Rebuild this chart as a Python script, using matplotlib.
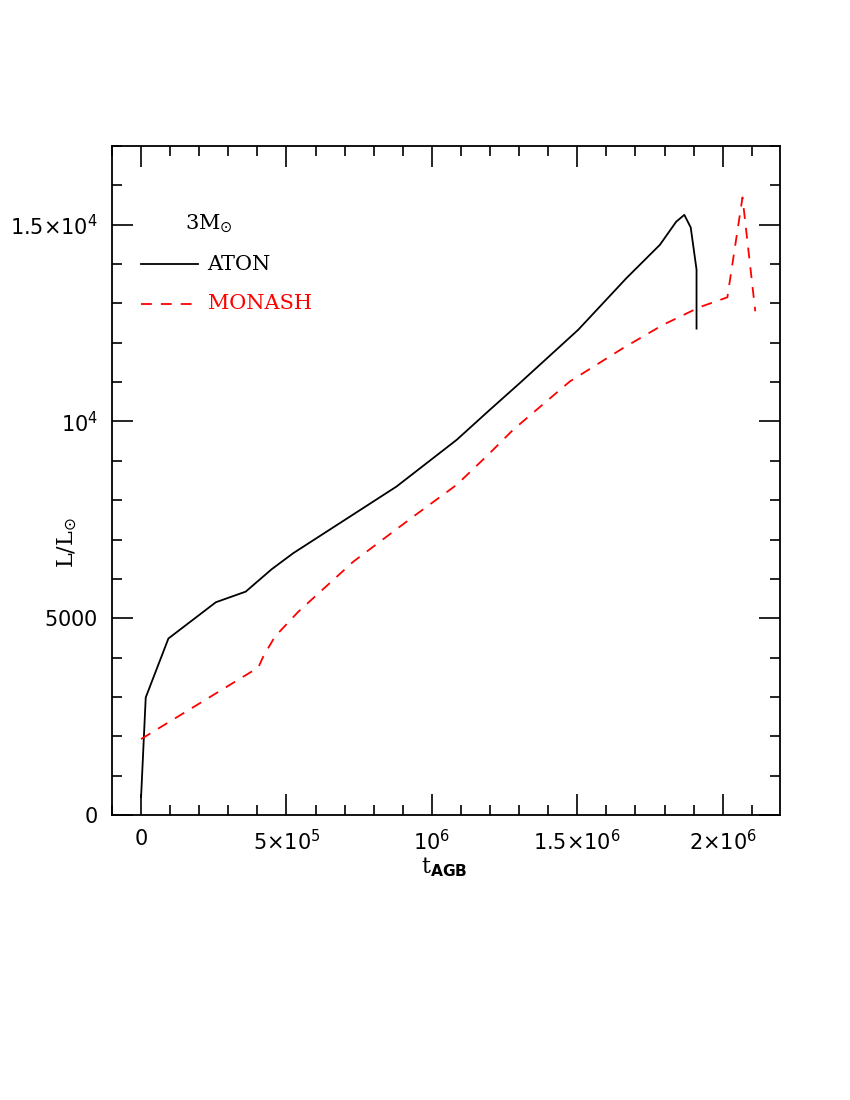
import matplotlib
matplotlib.use("Agg")
import matplotlib.pyplot as plt
from matplotlib.ticker import MultipleLocator, FixedLocator, FixedFormatter

# ATON (solid black)
aton_t = [0, 16000, 94000, 257000, 360000, 449000, 523000, 878000, 1085000,
          1199000, 1302000, 1503000, 1669000, 1784000, 1840000, 1868000,
          1890000, 1910000, 1910000]
aton_L = [457, 2987, 4485, 5406, 5677, 6245, 6652, 8345, 9532,
          10295, 10974, 12329, 13643, 14489, 15076, 15250,
          14930, 13860, 12360]

# MONASH (dashed red)
monash_t = [0, 403000, 420000, 460000, 541000, 730000, 936000, 1085000,
            1199000, 1279000, 1474000, 1657000, 1795000, 1921000, 2016000,
            2068000, 2112000]
monash_L = [1929, 3748, 4024, 4532, 5168, 6439, 7583, 8389,
            9195, 9787, 11015, 11863, 12456, 12906, 13155,
            15693, 12800]

xticks = [0, 5e5, 1e6, 1.5e6, 2e6]
xticklabels = [r"$0$", r"$5{\times}10^5$", r"$10^6$", r"$1.5{\times}10^6$", r"$2{\times}10^6$"]
yticks = [0, 5000, 10000, 15000]
yticklabels = [r"$0$", r"$5000$", r"$10^4$", r"$1.5{\times}10^4$"]

plt.rcParams["mathtext.fontset"] = "dejavusans"

fig = plt.figure(figsize=(8.5, 11), dpi=100)
ax = fig.add_axes([112/850, 1-815/1100, (780-112)/850, (815-146)/1100])

ax.plot(aton_t, aton_L, color="black", lw=1.3)
ax.plot(monash_t, monash_L, color="red", lw=1.3, dashes=(6, 5))

ax.set_xlim(-1e5, 2.197e6)
ax.set_ylim(0, 17000)

ax.xaxis.set_major_locator(FixedLocator(xticks))
ax.xaxis.set_major_formatter(FixedFormatter(xticklabels))
ax.xaxis.set_minor_locator(MultipleLocator(1e5))
ax.yaxis.set_major_locator(FixedLocator(yticks))
ax.yaxis.set_major_formatter(FixedFormatter(yticklabels))
ax.yaxis.set_minor_locator(MultipleLocator(1000))

ax.tick_params(which="both", direction="in", top=True, right=True, width=1.2)
ax.tick_params(which="major", length=15, labelsize=15, pad=10)
ax.tick_params(which="minor", length=7)
for s in ax.spines.values():
    s.set_linewidth(1.3)

serif = "DejaVu Serif"
ax.set_xlabel(r"t$_{\mathbf{AGB}}$", fontsize=16, family=serif)
ax.xaxis.set_label_coords(0.498, -0.06)
ax.set_ylabel(r"L/L$_{\odot}$", fontsize=16, family=serif)
ax.yaxis.set_label_coords(-0.05, 0.407)

# legend drawn in axes coordinates
ax.text(0.11, 0.883, r"3M$_{\odot}$", transform=ax.transAxes, fontsize=15,
        family=serif, va="center", ha="left")
ax.plot([0.043, 0.128], [0.823, 0.823], transform=ax.transAxes, color="black", lw=1.3)
ax.text(0.143, 0.823, "ATON", transform=ax.transAxes, fontsize=15, family=serif,
        va="center", ha="left")
ax.plot([0.043, 0.128], [0.764, 0.764], transform=ax.transAxes, color="red", lw=1.3,
        dashes=(6, 5))
ax.text(0.143, 0.764, "MONASH", transform=ax.transAxes, fontsize=15, family=serif,
        va="center", ha="left", color="red")

fig.savefig("out.png", dpi=100)
